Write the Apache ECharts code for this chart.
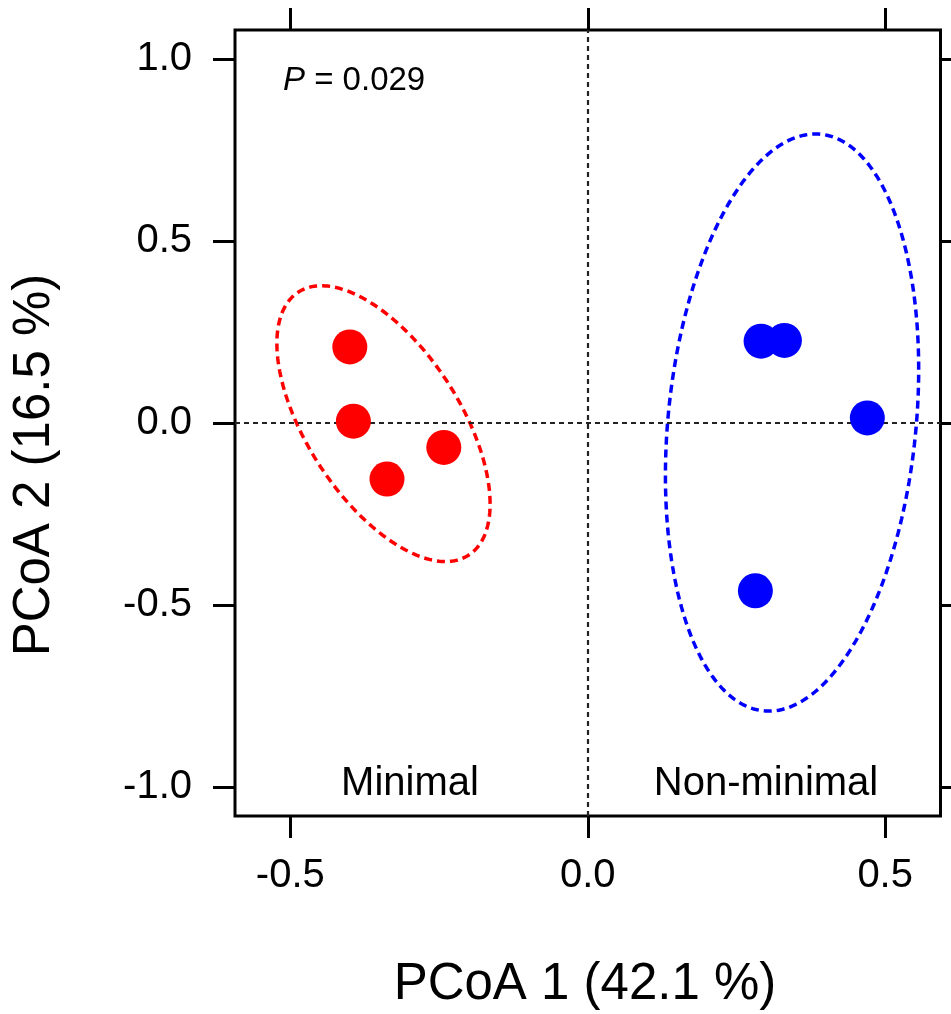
<!DOCTYPE html>
<html>
<head>
<meta charset="utf-8">
<script src="https://cdn.jsdelivr.net/npm/echarts@6/dist/echarts.min.js"></script>
<style>
html,body{margin:0;padding:0;background:#fff;}
#chart{width:951px;height:1014px;}
</style>
</head>
<body>
<div id="chart"></div>
<script>
// ---- data ----
const minimalX = [-0.400, -0.394, -0.242, -0.3375];
const minimalY = [0.209, 0.005, -0.067, -0.154];
const nonMinimalX = [0.2914, 0.3306, 0.470, 0.2818];
const nonMinimalY = [0.225, 0.227, 0.014, -0.461];
const xTicks = [-0.5, 0, 0.5];
const yTicks = [-1, -0.5, 0, 0.5, 1];
const xRange = [-0.593, 0.593];
const yRange = [-1.08, 1.08];
const groupNames = ['Minimal', 'Non-minimal'];
const xTitle = 'PCoA 1 (42.1 %)';
const yTitle = 'PCoA 2 (16.5 %)';
const pText = ' = 0.029';
const ellipseConf = 0.95;

const FONT = '"Liberation Sans", Arial, Helvetica, sans-serif';

// 95% normal confidence ellipse from group covariance (drawn in data space)
function ellipse(xs, ys, conf, n) {
  const m = xs.length;
  const mx = xs.reduce((a, b) => a + b, 0) / m;
  const my = ys.reduce((a, b) => a + b, 0) / m;
  let sxx = 0, syy = 0, sxy = 0;
  for (let i = 0; i < m; i++) {
    sxx += (xs[i] - mx) ** 2;
    syy += (ys[i] - my) ** 2;
    sxy += (xs[i] - mx) * (ys[i] - my);
  }
  sxx /= (m - 1); syy /= (m - 1); sxy /= (m - 1);
  const k = Math.sqrt(-2 * Math.log(1 - conf));
  const l11 = Math.sqrt(sxx), l21 = sxy / l11, l22 = Math.sqrt(syy - l21 * l21);
  const pts = [];
  for (let i = 0; i <= n; i++) {
    const t = 2 * Math.PI * i / n;
    const c = Math.cos(t), s = Math.sin(t);
    pts.push([mx + k * l11 * c, my + k * (l21 * c + l22 * s)]);
  }
  return pts;
}

const zip = (a, b) => a.map((v, i) => [v, b[i]]);
const fmt = v => v.toFixed(1);

const chart = echarts.init(document.getElementById('chart'), null, {renderer: 'canvas'});

const tickStyle = {show: true, inside: false, length: 22, lineStyle: {color: '#000', width: 3}};
const labelStyle = {color: '#000', fontSize: 40, fontFamily: FONT};

const option = {
  animation: false,
  backgroundColor: '#fff',
  grid: {left: 235, right: 10.5, top: 30, bottom: 198, show: true, borderColor: '#000', borderWidth: 3, backgroundColor: 'transparent', containLabel: false},
  xAxis: [
    {type: 'value', position: 'bottom', min: xRange[0], max: xRange[1],
     axisLine: {show: false, onZero: false}, splitLine: {show: false},
     axisTick: Object.assign({customValues: xTicks}, tickStyle),
     axisLabel: Object.assign({customValues: xTicks, margin: 40, formatter: fmt}, labelStyle)},
    {type: 'value', position: 'top', min: xRange[0], max: xRange[1],
     axisLine: {show: false, onZero: false}, splitLine: {show: false},
     axisTick: Object.assign({customValues: xTicks}, tickStyle),
     axisLabel: {show: false}}
  ],
  yAxis: [
    {type: 'value', position: 'left', min: yRange[0], max: yRange[1],
     axisLine: {show: false, onZero: false}, splitLine: {show: false},
     axisTick: Object.assign({customValues: yTicks}, tickStyle),
     axisLabel: Object.assign({customValues: yTicks, margin: 43, formatter: fmt}, labelStyle)},
    {type: 'value', position: 'right', min: yRange[0], max: yRange[1],
     axisLine: {show: false, onZero: false}, splitLine: {show: false},
     axisTick: Object.assign({customValues: yTicks}, tickStyle),
     axisLabel: {show: false}}
  ],
  series: [
    {type: 'line', data: [], xAxisIndex: 0, yAxisIndex: 0, silent: true,
     markLine: {silent: true, symbol: ['none', 'none'], label: {show: false},
       lineStyle: {color: '#222', width: 2.2, type: [5, 4]},
       data: [{xAxis: 0}, {yAxis: 0}]}},
    {type: 'line', name: 'ellipse-min', data: ellipse(minimalX, minimalY, ellipseConf, 240),
     showSymbol: false, smooth: false, silent: true,
     lineStyle: {color: '#ff0000', width: 3.5, type: [8, 5]}},
    {type: 'line', name: 'ellipse-non', data: ellipse(nonMinimalX, nonMinimalY, ellipseConf, 240),
     showSymbol: false, smooth: false, silent: true,
     lineStyle: {color: '#0000ff', width: 3.5, type: [8, 5]}},
    {type: 'scatter', name: groupNames[0], data: zip(minimalX, minimalY), symbolSize: 35,
     itemStyle: {color: '#ff0000', opacity: 1}, z: 5},
    {type: 'scatter', name: groupNames[1], data: zip(nonMinimalX, nonMinimalY), symbolSize: 35,
     itemStyle: {color: '#0000ff', opacity: 1}, z: 5}
  ],
  graphic: [
    {type: 'text', x: 585, y: 985, style: {text: xTitle, fontSize: 51, fontFamily: FONT, fill: '#000', align: 'center', verticalAlign: 'middle'}},
    {type: 'text', x: 35, y: 465, rotation: Math.PI / 2, style: {text: yTitle, fontSize: 51, fontFamily: FONT, fill: '#000', align: 'center', verticalAlign: 'middle'}},
    {type: 'text', x: 283, y: 81, style: {text: '{i|P}' + pText, fontSize: 33, fontFamily: FONT, fill: '#000', align: 'left', verticalAlign: 'middle',
      rich: {i: {fontStyle: 'italic', fontSize: 33, fontFamily: FONT, fill: '#000'}}}},
    {type: 'text', x: 410, y: 784, style: {text: groupNames[0], fontSize: 40, fontFamily: FONT, fill: '#000', align: 'center', verticalAlign: 'middle'}},
    {type: 'text', x: 766, y: 784, style: {text: groupNames[1], fontSize: 40, fontFamily: FONT, fill: '#000', align: 'center', verticalAlign: 'middle'}}
  ]
};
chart.setOption(option);
</script>
</body>
</html>
